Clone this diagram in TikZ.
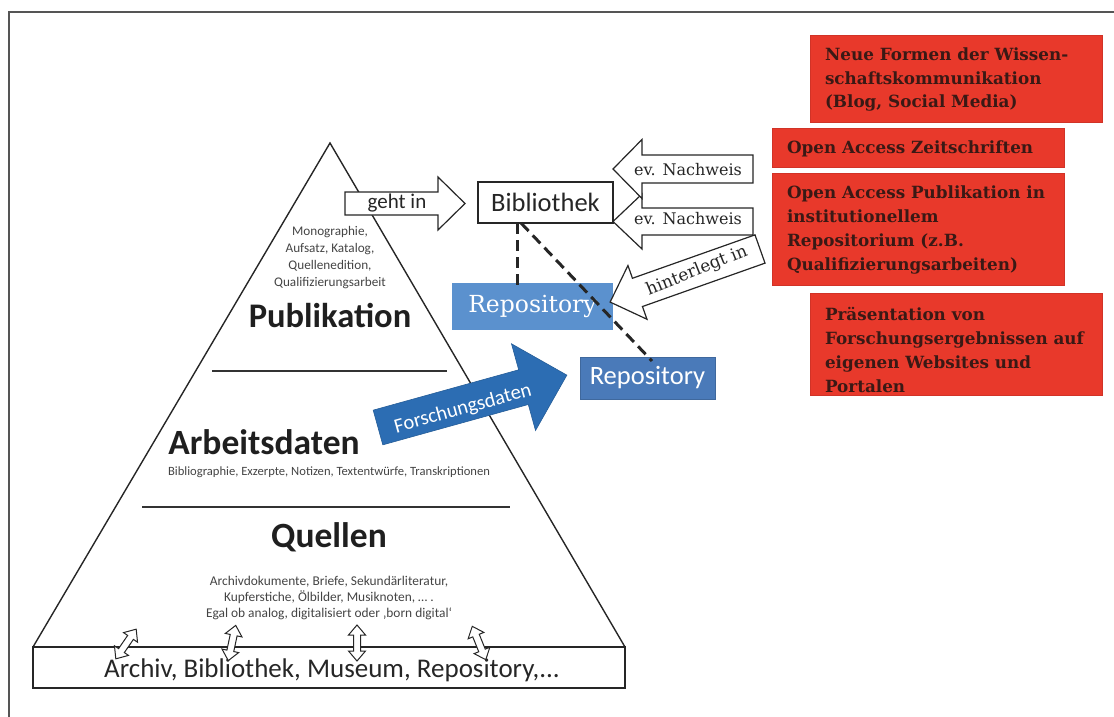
\documentclass[tikz,border=0pt]{standalone}
\usepackage{fontspec}
\setmainfont{Carlito}
\newfontfamily\serifx{DejaVu Serif}
\usetikzlibrary{calc}
\definecolor{redbg}{HTML}{E8392B}
\definecolor{redtx}{HTML}{3A1915}
\definecolor{bluelt}{HTML}{5B91CE}
\definecolor{bluedk}{HTML}{4A7AB9}
\definecolor{bluear}{HTML}{2C6DB3}
\definecolor{graytx}{HTML}{444444}
\definecolor{framegray}{HTML}{555555}
\tikzset{
  pics/barrow/.style args={#1/#2/#3/#4}{code={
    \path[pic actions] (0,#2) -- ({#1-#4},#2) -- ({#1-#4},#3) -- (#1,0)
      -- ({#1-#4},-#3) -- ({#1-#4},-#2) -- (0,-#2) -- cycle;
  }},
  pics/dblarrow/.style={code={
    \path[pic actions] (-18,0) -- (-8,-8.5) -- (-8,-3.5) -- (8,-3.5) -- (8,-8.5)
      -- (18,0) -- (8,8.5) -- (8,3.5) -- (-8,3.5) -- (-8,8.5) -- cycle;
  }}
}
\begin{document}
\begin{tikzpicture}[x=1pt,y=-1pt,
  every node/.style={inner sep=0pt, outer sep=0pt},
  heading/.style={font=\fontsize{34.5}{40}\selectfont\bfseries, text=black!88},
  smalltxt/.style={text=graytx, align=center},
  outlinearrow/.style={draw=black!85, fill=white, line width=1.2pt},
  redbox/.style={fill=redbg, draw=redbg!90!black, line width=0.4pt, anchor=north west, minimum width=292pt},
  redtext/.style={anchor=west, align=left, text=redtx, font=\serifx\bfseries\fontsize{16.8}{23.8}\selectfont},
  dashline/.style={line width=3pt, dash pattern=on 11pt off 6pt, black!85},
  sepline/.style={line width=2pt, black!80},
]
\useasboundingbox (0,0) rectangle (1114,717);
% outer frame (top and left edge)
\draw[framegray, line width=1.5pt] (1114,12) -- (9,12) -- (9,717);

% pyramid
\coordinate (apex) at (330,143);
\coordinate (bl) at (33,647);
\coordinate (br) at (625,647);
\draw[line width=1.4pt, black!85] (bl) -- (apex) -- (br);
\node[draw=black!85, line width=1.4pt, minimum width=592pt, minimum height=41pt, anchor=north west] (base) at (33,647) {};
\node[font=\fontsize{27}{30}\selectfont, text=black!85] (basetxt) at (332,670) {Archiv, Bibliothek, Museum, Repository,...};

\draw[sepline] (212,371) -- (447,371);
\draw[sepline] (142,507) -- (510,507);

\node[smalltxt, font=\fontsize{13.2}{17}\selectfont] (pubdesc) at (330,258) {Monographie,\\Aufsatz, Katalog,\\Quellenedition,\\Qualifizierungsarbeit};
\node[heading] (pub) at (330,315) {Publikation};
\node[heading, font=\fontsize{35.5}{40}\selectfont\bfseries] (arb) at (264,442) {Arbeitsdaten};
\node[smalltxt, font=\fontsize{12.6}{14}\selectfont] (arbdesc) at (329,472) {Bibliographie, Exzerpte, Notizen, Textentwürfe, Transkriptionen};
\node[heading, font=\fontsize{35.5}{40}\selectfont\bfseries] (quel) at (329,537) {Quellen};
\node[smalltxt, font=\fontsize{13.4}{16}\selectfont] (queldesc) at (329,598) {Archivdokumente, Briefe, Sekundärliteratur,\\Kupferstiche, Ölbilder, Musiknoten, … .\\Egal ob analog, digitalisiert oder ‚born digital‘};

% double arrows at the base
\pic[outlinearrow, line width=1pt, rotate=55.5] at (126,644) {dblarrow};
\pic[outlinearrow, line width=1pt, rotate=78] at (232,643) {dblarrow};
\pic[outlinearrow, line width=1pt, rotate=90] at (357,643) {dblarrow};
\pic[outlinearrow, line width=1pt, rotate=112] at (479,643) {dblarrow};

% Bibliothek and repositories
\node[draw=black!85, line width=1.3pt, minimum width=135pt, minimum height=41pt, font=\fontsize{26.5}{30}\selectfont, text=black!85] (bib) at (545.5,202.5) {Bibliothek};
\node[fill=bluelt, minimum width=161pt, minimum height=47pt, text=white, font=\serifx\fontsize{23.5}{27}\selectfont] (repl) at (532.5,306.5) {Repository};
\node[fill=bluedk, draw=bluedk!85!black, line width=0.6pt, minimum width=135pt, minimum height=42pt, text=white, font=\fontsize{26.5}{30}\selectfont] (repd) at (647.5,378) {Repository};

% geht in
\pic[outlinearrow] at (345,203.5) {barrow={120/11.5/26.5/27}};
\node[font=\fontsize{21}{24}\selectfont, text=black!85] (geht) at (397,203) {geht in};

% ev. Nachweis arrows
\pic[outlinearrow, rotate=180] at (753,221.5) {barrow={140/13.5/27.5/29}};
\node[font=\serifx\fontsize{16}{19}\selectfont, text=black!85] (nw2) at (688,219) {ev. Nachweis};
\pic[outlinearrow, rotate=180] at (753,169) {barrow={140/14/29.5/29}};
\node[font=\serifx\fontsize{16}{19}\selectfont, text=black!85] (nw1) at (688,170) {ev. Nachweis};

% hinterlegt in
\pic[outlinearrow, rotate=199.5] at (760,249) {barrow={159/15/28.5/29}};
\node[font=\serifx\fontsize{17}{20}\selectfont, text=black!85, rotate=22] (hint) at (697,271) {hinterlegt in};

% Forschungsdaten
\pic[draw=bluear!85!black, fill=bluear, line width=0.6pt, rotate=15.5] at (378,427.5) {barrow={196/18/45/45}};
\node[text=white, rotate=15.5, font=\fontsize{20.5}{23}\selectfont] (fd) at (463,409) {Forschungsdaten};

% dashed links
\coordinate (dv) at (517,0);
\coordinate (dd1) at (521,0);
\coordinate (dd2) at (652,0);
\draw[dashline] (bib.south -| dv) -- ($(repl.north -| dv)+(0,4)$);
\draw[dashline] (bib.south -| dd1) -- ($(repd.north -| dd2)+(0,4)$);

% red boxes
\node[redbox, minimum height=87pt] (r1) at (810,35) {};
\node[redtext] (t1) at ($(r1.west)+(15,1)$) {Neue Formen der Wissen-\\schaftskommunikation\\(Blog, Social Media)};
\node[redbox, minimum height=39pt] (r2) at (772,128) {};
\node[redtext] (t2) at ($(r2.west)+(15,1)$) {Open Access Zeitschriften};
\node[redbox, minimum height=112pt] (r3) at (772,173) {};
\node[redtext] (t3) at ($(r3.west)+(15,1)$) {Open Access Publikation in\\institutionellem\\Repositorium (z.B.\\Qualifizierungsarbeiten)};
\node[redbox, minimum height=102pt] (r4) at (810,293) {};
\node[redtext] (t4) at ($(r4.west)+(15,6)$) {Präsentation von\\Forschungsergebnissen auf\\eigenen Websites und\\Portalen};
\end{tikzpicture}
\end{document}
